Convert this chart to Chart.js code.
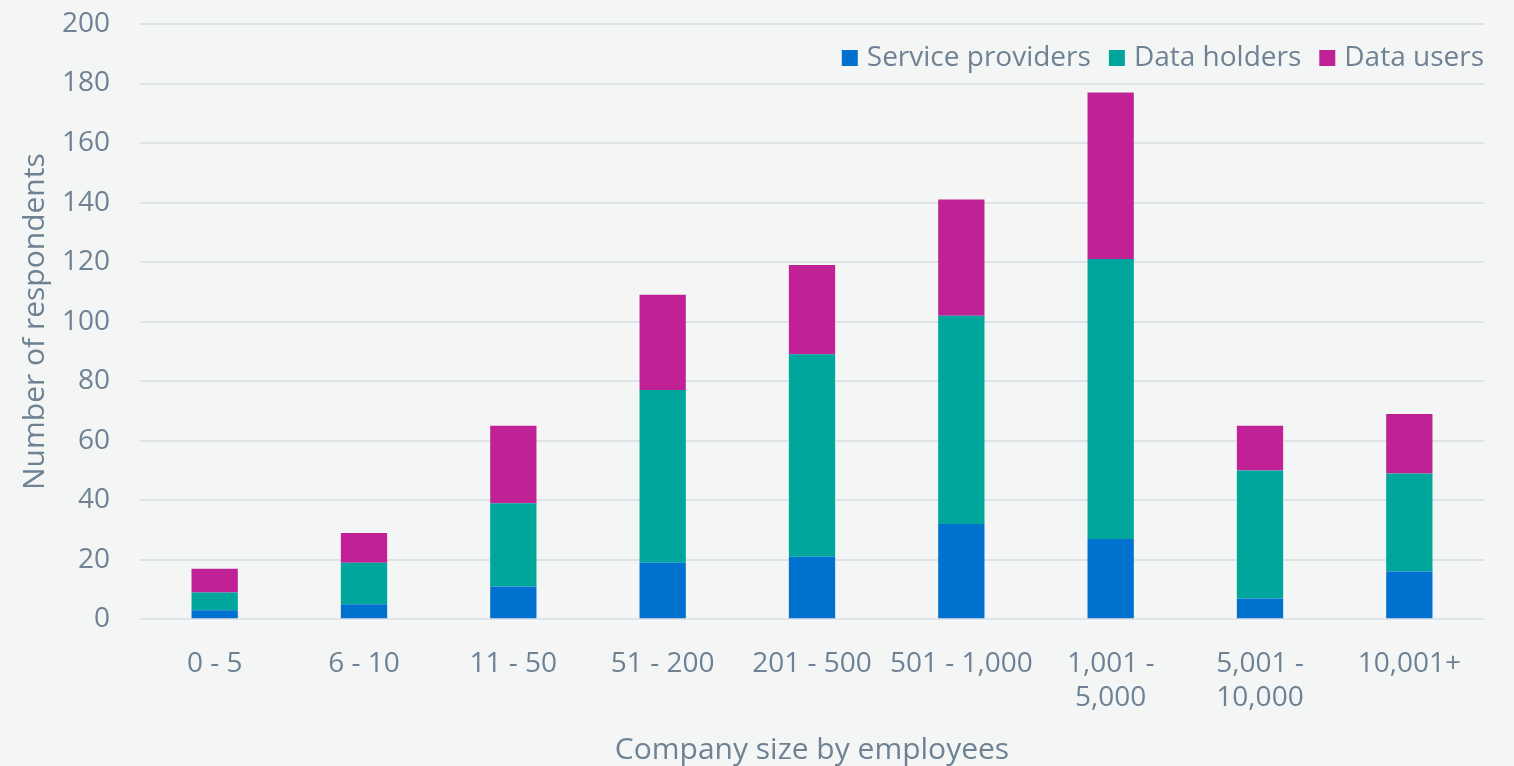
<!DOCTYPE html>
<html>
<head>
<meta charset="utf-8">
<script src="https://cdn.jsdelivr.net/npm/chart.js@4"></script>
<style>
html,body{margin:0;padding:0;background:#f4f6f6;}
#wrap{width:1514px;height:766px;}
</style>
</head>
<body>
<div id="wrap"><canvas id="sizeChart"></canvas></div>
<script>
const categories = ["0 - 5","6 - 10","11 - 50","51 - 200","201 - 500","501 - 1,000",["1,001 -","5,000"],["5,001 -","10,000"],"10,001+"]
const serviceProviders = [3,5,11,19,21,32,27,7,16]
const dataHolders = [6,14,28,58,68,70,94,43,33]
const dataUsers = [8,10,26,32,30,39,56,15,20]
const yTicks = [0,20,40,60,80,100,120,140,160,180,200]

const textColor = "#6f8294"
const font = "'Open Sans', sans-serif"

// legend sits inside the plot, top right
const insideLegend = {
id:"insideLegend",
afterDraw(chart){
const ctx = chart.ctx
const area = chart.chartArea
ctx.save()
ctx.font = "28px " + font
ctx.textBaseline = "middle"
const box = 16, gap = 9, between = 18
const y = area.top + 34
let x = area.right
const sets = chart.data.datasets.slice().reverse()
sets.forEach(ds=>{
const w = ctx.measureText(ds.label).width
ctx.fillStyle = textColor
ctx.textAlign = "left"
ctx.fillText(ds.label, x - w, y)
x = x - w - gap - box
ctx.fillStyle = ds.backgroundColor
ctx.fillRect(x, y - box/2, box, box)
x = x - between
})
ctx.restore()
}
}

new Chart(document.getElementById("sizeChart"),{
type:"bar",
data:{
labels:categories,
datasets:[
{label:"Service providers",data:serviceProviders,backgroundColor:"#0071ce"},
{label:"Data holders",data:dataHolders,backgroundColor:"#00a59b"},
{label:"Data users",data:dataUsers,backgroundColor:"#c02296"}
]
},
plugins:[insideLegend],
options:{
responsive:true,
maintainAspectRatio:false,
animation:false,
layout:{padding:{left:17,right:30,top:24,bottom:0}},
datasets:{bar:{barPercentage:0.31,categoryPercentage:1,borderWidth:0}},
plugins:{
legend:{display:false},
tooltip:{enabled:false}
},
scales:{
x:{
stacked:true,
grid:{display:false},
border:{display:false},
ticks:{color:textColor,font:{family:font,size:28,lineHeight:1.21},padding:20,maxRotation:0,autoSkip:false},
title:{display:true,text:"Company size by employees",color:textColor,font:{family:font,size:30,lineHeight:1},padding:{top:0,bottom:1}}
},
y:{
stacked:true,
min:0,
max:200,
afterBuildTicks:function(axis){axis.ticks = yTicks.map(v=>({value:v}))},
afterFit:function(axis){axis.width = 123; axis.paddingTop = 0; axis.paddingBottom = 0},
grid:{color:"#dfe3e7",lineWidth:2,drawTicks:false},
border:{display:false},
ticks:{color:textColor,font:{family:font,size:28},padding:30},
title:{display:true,text:"Number of respondents",color:textColor,font:{family:font,size:30},padding:{top:0,bottom:0}}
}
}
}
})
</script>
</body>
</html>
